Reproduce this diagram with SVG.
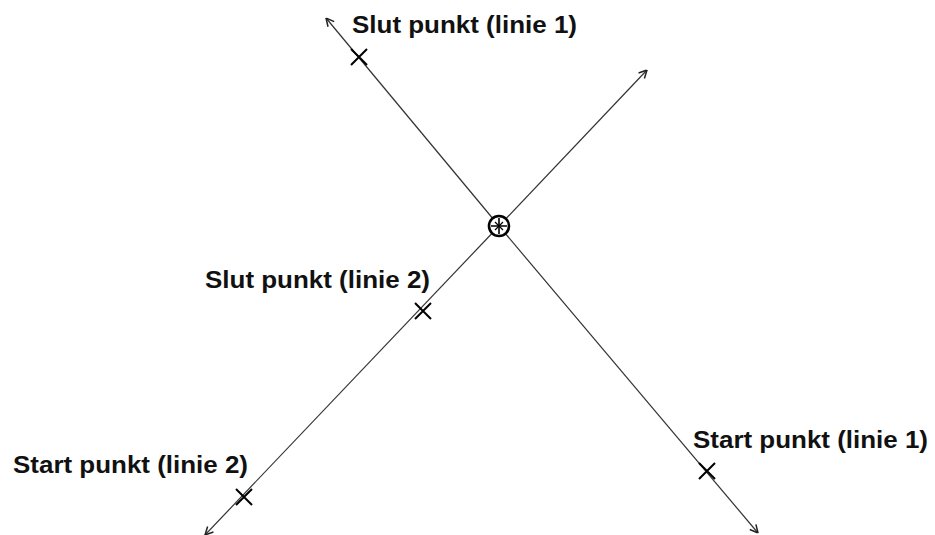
<svg xmlns="http://www.w3.org/2000/svg" width="935" height="535" viewBox="0 0 935 535">
<style>
.ln{stroke:#333;stroke-width:1.2;fill:none}
.x{stroke:#000;stroke-width:2;fill:none}
.lb{font-family:"Liberation Sans",Arial,sans-serif;font-weight:bold;font-size:23px;fill:#111}
</style>
<defs>
<marker id="ah" viewBox="0 0 10 10" refX="10" refY="5" markerWidth="10" markerHeight="10" markerUnits="userSpaceOnUse" orient="auto">
<path d="M2,1 L10,5 L2,9" fill="none" stroke="#222" stroke-width="1.5"/>
</marker>
</defs>
<rect width="935" height="535" fill="#fff"/>
<g id="connectors">
<line class="ln" x1="499" y1="226" x2="326" y2="18" marker-end="url(#ah)"/>
<line class="ln" x1="499" y1="226" x2="758" y2="533" marker-end="url(#ah)"/>
<line class="ln" x1="499" y1="226" x2="647" y2="70" marker-end="url(#ah)"/>
<line class="ln" x1="499" y1="226" x2="205" y2="535" marker-end="url(#ah)"/>
</g>
<g id="intersection">
<circle cx="499" cy="226" r="10" fill="#fff" stroke="#000" stroke-width="2.6"/>
<path d="M499,218v16M491,226h16" stroke="#000" stroke-width="1.6"/>
<path d="M495,222l8,8M503,222l-8,8" stroke="#000" stroke-width="1.2"/>
</g>
<g id="slut1">
<path class="x" d="M351,49l16,16M367,49l-16,16"/>
<text class="lb" x="352" y="33" textLength="225" lengthAdjust="spacingAndGlyphs">Slut punkt (linie 1)</text>
</g>
<g id="slut2">
<path class="x" d="M415,303l16,16M431,303l-16,16"/>
<text class="lb" x="205" y="288" textLength="225" lengthAdjust="spacingAndGlyphs">Slut punkt (linie 2)</text>
</g>
<g id="start2">
<path class="x" d="M236,489l16,16M252,489l-16,16"/>
<text class="lb" x="13" y="473" textLength="235" lengthAdjust="spacingAndGlyphs">Start punkt (linie 2)</text>
</g>
<g id="start1">
<path class="x" d="M699,463l16,16M715,463l-16,16"/>
<text class="lb" x="693" y="448" textLength="235" lengthAdjust="spacingAndGlyphs">Start punkt (linie 1)</text>
</g>
</svg>
